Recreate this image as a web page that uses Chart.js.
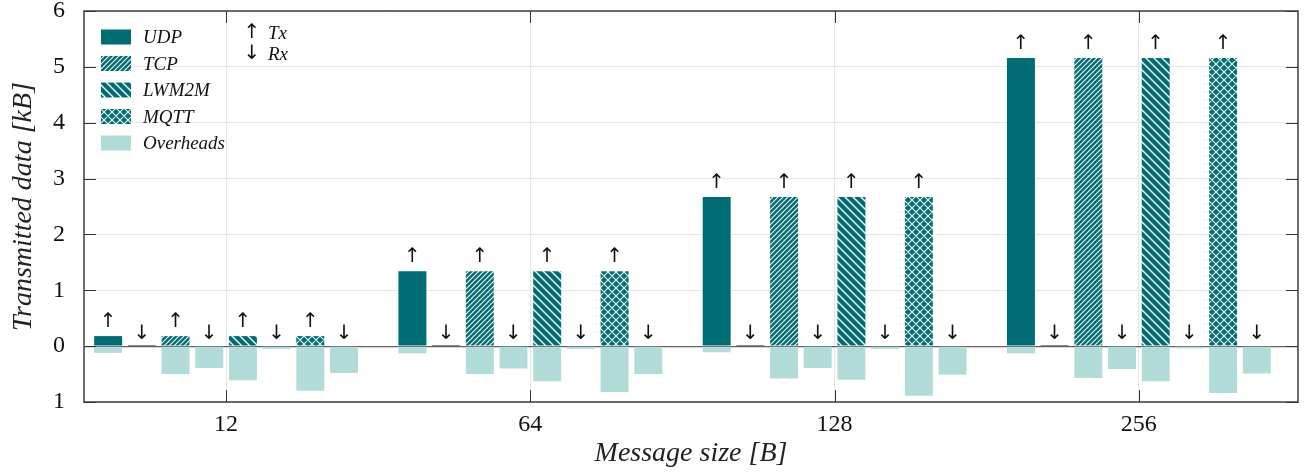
<!DOCTYPE html>
<html><head><meta charset="utf-8">
<script src="https://cdn.jsdelivr.net/npm/chart.js@4.4.1/dist/chart.umd.min.js"></script>
<style>html,body{margin:0;padding:0;background:#fff;} #wrap{width:1306px;height:472px;}</style>
</head><body><div id="wrap"><canvas id="c" width="1306" height="472"></canvas></div>
<script>
// ---- data ----
const categories = ['12', '64', '128', '256'];
const protocols = ['UDP', 'TCP', 'LWM2M', 'MQTT'];
const yTicks = [-1, 0, 1, 2, 3, 4, 5, 6];
// transmitted payload data [kB]
const udpTx   = [0.18, 1.34, 2.67, 5.16];
const tcpTx   = [0.18, 1.34, 2.67, 5.16];
const lwm2mTx = [0.18, 1.34, 2.67, 5.16];
const mqttTx  = [0.18, 1.34, 2.67, 5.16];
// received payload data [kB]
const udpRx   = [0.02, 0.02, 0.02, 0.02];
const tcpRx   = [0, 0, 0, 0];
const lwm2mRx = [0, 0, 0, 0];
const mqttRx  = [0, 0, 0, 0];
// overheads [kB] (drawn downward)
const udpTxOh   = [0.12, 0.13, 0.11, 0.13];
const udpRxOh   = [0, 0, 0, 0];
const tcpTxOh   = [0.50, 0.50, 0.58, 0.57];
const tcpRxOh   = [0.39, 0.40, 0.39, 0.41];
const lwm2mTxOh = [0.61, 0.63, 0.60, 0.63];
const lwm2mRxOh = [0.05, 0.05, 0.05, 0.04];
const mqttTxOh  = [0.80, 0.82, 0.89, 0.84];
const mqttRxOh  = [0.48, 0.50, 0.51, 0.49];

const TEAL = '#006d74';
const LIGHT = '#b2dcd8';
const FONT = '"Liberation Serif", "Times New Roman", serif';
const ARROW_FONT = '20px "DejaVu Sans", sans-serif';

function makePattern(kind) {
  const s = kind === 'tcp' ? 5 : 8;
  const c = document.createElement('canvas');
  c.width = s; c.height = s;
  const g = c.getContext('2d');
  g.fillStyle = TEAL; g.fillRect(0, 0, s, s);
  g.strokeStyle = 'rgba(255,255,255,0.95)';
  g.lineWidth = kind === 'tcp' ? 1.1 : (kind === 'lwm2m' ? 1.4 : 1.1);
  g.beginPath();
  if (kind === 'tcp' || kind === 'mqtt') { // "/"
    g.moveTo(-1, s + 1); g.lineTo(s + 1, -1);
    g.moveTo(-1, 1); g.lineTo(1, -1);
    g.moveTo(s - 1, s + 1); g.lineTo(s + 1, s - 1);
  }
  if (kind === 'lwm2m' || kind === 'mqtt') { // "\"
    g.moveTo(-1, -1); g.lineTo(s + 1, s + 1);
    g.moveTo(s - 1, -1); g.lineTo(s + 1, 1);
    g.moveTo(-1, s - 1); g.lineTo(1, s + 1);
  }
  g.stroke();
  return g.createPattern(c, 'repeat');
}
const ctx0 = document.getElementById('c').getContext('2d');
const fills = [TEAL, makePattern('tcp'), makePattern('lwm2m'), makePattern('mqtt')];

const txSeries = [udpTx, tcpTx, lwm2mTx, mqttTx];
const rxSeries = [udpRx, tcpRx, lwm2mRx, mqttRx];
const txOhSeries = [udpTxOh, tcpTxOh, lwm2mTxOh, mqttTxOh];
const rxOhSeries = [udpRxOh, tcpRxOh, lwm2mRxOh, mqttRxOh];

const pts = (arr, sign) => arr.map((v, i) => ({ x: i, y: sign * v }));
const datasets = [];
protocols.forEach((p, k) => {
  datasets.push({ label: p + ' Tx', role: 'tx', stack: p + '-tx', data: pts(txSeries[k], 1), backgroundColor: fills[k] });
  datasets.push({ label: p + ' Tx overhead', role: 'oh', stack: p + '-tx', data: pts(txOhSeries[k], -1), backgroundColor: LIGHT });
  datasets.push({ label: p + ' Rx', role: 'rx', stack: p + '-rx', data: pts(rxSeries[k], 1), backgroundColor: k === 0 ? '#1a1a1a' : fills[k] });
  datasets.push({ label: p + ' Rx overhead', role: 'oh', stack: p + '-rx', data: pts(rxOhSeries[k], -1), backgroundColor: LIGHT });
});

const decorPlugin = {
  id: 'decor',
  afterDatasetsDraw(chart) {
    const { ctx, scales: { y } } = chart;
    const zero = y.getPixelForValue(0);
    ctx.save();
    ctx.fillStyle = '#111';
    ctx.font = ARROW_FONT;
    ctx.textAlign = 'center';
    ctx.textBaseline = 'middle';
    chart.data.datasets.forEach((ds, i) => {
      if (ds.role !== 'tx' && ds.role !== 'rx') return;
      const meta = chart.getDatasetMeta(i);
      meta.data.forEach(el => {
        if (ds.role === 'tx') ctx.fillText('\u2191', el.x, el.y - 14);
        else ctx.fillText('\u2193', el.x, zero - 12);
      });
    });
    ctx.restore();
  },
  afterDraw(chart) {
    const { ctx, chartArea: a, scales: { x, y } } = chart;
    ctx.save();
    ctx.strokeStyle = '#333'; ctx.lineWidth = 1;
    ctx.beginPath();
    y.ticks.forEach(t => {
      const py = Math.round(y.getPixelForValue(t.value)) + 0.5;
      ctx.moveTo(a.left, py); ctx.lineTo(a.left + 12, py);
      ctx.moveTo(a.right, py); ctx.lineTo(a.right - 12, py);
    });
    x.ticks.forEach(t => {
      const px = Math.round(x.getPixelForValue(t.value)) + 0.5;
      ctx.moveTo(px, a.bottom); ctx.lineTo(px, a.bottom - 12);
      ctx.moveTo(px, a.top); ctx.lineTo(px, a.top + 12);
    });
    ctx.stroke();
    ctx.lineWidth = 1.5; ctx.strokeStyle = '#3c3c3c';
    ctx.strokeRect(a.left, a.top, a.right - a.left, a.bottom - a.top);

    // legend
    const items = protocols.map((p, k) => ({ text: p, fill: fills[k] }));
    items.push({ text: 'Overheads', fill: LIGHT });
    ctx.font = 'italic 19px ' + FONT;
    ctx.textAlign = 'left'; ctx.textBaseline = 'middle';
    items.forEach((it, k) => {
      const cy = a.top + 26 + k * 26.5;
      ctx.fillStyle = it.fill;
      ctx.fillRect(a.left + 17, cy - 7.5, 30, 15);
      ctx.fillStyle = '#111';
      ctx.fillText(it.text, a.left + 59, cy + 1);
    });
    // Tx / Rx key
    ctx.textAlign = 'center';
    ctx.font = ARROW_FONT;
    ctx.fillText('\u2191', a.left + 168, a.top + 22);
    ctx.fillText('\u2193', a.left + 168, a.top + 43);
    ctx.textAlign = 'left';
    ctx.font = 'italic 19px ' + FONT;
    ctx.fillText('Tx', a.left + 184, a.top + 23);
    ctx.fillText('Rx', a.left + 184, a.top + 44);
    ctx.restore();
  }
};

new Chart(ctx0, {
  type: 'bar',
  data: { datasets },
  options: {
    responsive: false,
    animation: false,
    devicePixelRatio: 1,
    layout: { padding: { top: 11, right: 8, left: 0, bottom: 0 } },
    datasets: { bar: { categoryPercentage: 0.886, barPercentage: 0.83, borderWidth: 0 } },
    plugins: { legend: { display: false }, tooltip: { enabled: false } },
    scales: {
      x: {
        type: 'linear',
        min: -0.467, max: 3.523,
        offset: false,
        afterBuildTicks: s => { s.ticks = categories.map((_, i) => ({ value: i })); },
        afterFit: s => { s.height = 70; s.paddingLeft = 0; s.paddingRight = 0; },
        grid: { offset: false, color: '#e6e6e6', drawTicks: false },
        border: { display: false },
        ticks: { padding: 8, color: '#111', font: { family: FONT, size: 24 }, callback: v => categories[v] ?? '' },
        title: { display: true, text: 'Message size [B]', color: '#222', font: { family: FONT, size: 28, style: 'italic' }, padding: { top: 0, bottom: 2 } }
      },
      y: {
        stacked: true,
        min: -1, max: 6,
        afterBuildTicks: s => { s.ticks = yTicks.map(v => ({ value: v })); },
        afterFit: s => { s.width = 84; s.paddingTop = 0; s.paddingBottom = 0; },
        grid: { color: c => c.tick && c.tick.value === 0 ? '#606060' : '#e6e6e6', lineWidth: c => c.tick && c.tick.value === 0 ? 1.2 : 1, drawTicks: false },
        border: { display: false },
        ticks: { padding: 19, color: '#111', font: { family: FONT, size: 24 }, callback: v => Math.abs(v) },
        title: { display: true, text: 'Transmitted data [kB]', color: '#222', font: { family: FONT, size: 28, style: 'italic' }, padding: { top: 7, bottom: 0 } }
      }
    }
  },
  plugins: [decorPlugin]
});
</script>
</body></html>
